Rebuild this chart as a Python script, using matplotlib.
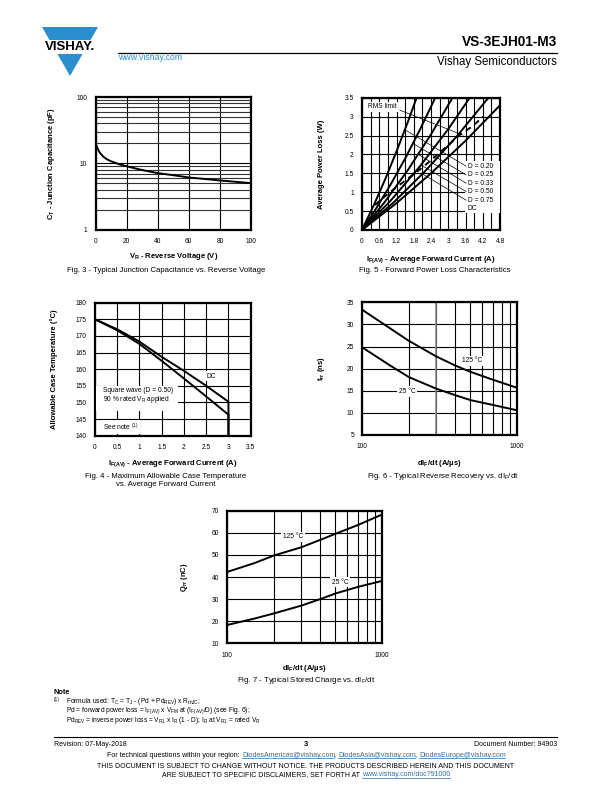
import matplotlib
matplotlib.use("Agg")
import matplotlib.pyplot as plt
import numpy as np
from matplotlib.patches import Polygon, Rectangle
from matplotlib.lines import Line2D
from matplotlib.ticker import LogLocator, NullFormatter, MultipleLocator, FixedLocator

plt.rcParams['font.family'] = ['Liberation Sans', 'DejaVu Sans']
plt.rcParams['mathtext.fontset'] = 'custom'
plt.rcParams['mathtext.rm'] = 'Liberation Sans'
plt.rcParams['mathtext.it'] = 'Liberation Sans:italic'
plt.rcParams['mathtext.bf'] = 'Liberation Sans:bold'

# ---- Fig. 3 : junction capacitance
cap_vr = [0, 1, 2, 3, 5, 7, 10, 15, 20, 30, 40, 50, 60, 70, 80, 90, 100]
cap_pf = [20, 17.5, 15.5, 14.2, 12.6, 11.6, 10.7, 9.7, 9.0, 7.9, 7.1, 6.6, 6.1, 5.8, 5.5, 5.25, 5.0]

# ---- Fig. 5 : forward power loss
duty_labels = ['D = 0.20', 'D = 0.25', 'D = 0.33', 'D = 0.50', 'D = 0.75', 'DC']
loss_i = [
    [0, 0.4, 0.8, 1.2, 1.6, 1.9],
    [0, 0.5, 1.0, 1.5, 2.0, 2.55],
    [0, 0.8, 1.6, 2.4, 3.15],
    [0, 1.0, 2.0, 3.0, 3.75],
    [0, 1.1, 2.2, 3.3, 4.4],
    [0, 1.2, 2.4, 3.6, 4.8],
]
loss_p = [
    [0, 0.64, 1.33, 2.08, 2.87, 3.50],
    [0, 0.58, 1.21, 1.89, 2.63, 3.50],
    [0, 0.75, 1.59, 2.53, 3.50],
    [0, 0.78, 1.67, 2.67, 3.50],
    [0, 0.73, 1.56, 2.48, 3.50],
    [0, 0.71, 1.50, 2.36, 3.30],
]
rms_i = [0.45, 0.92, 2.13, 2.48, 3.47, 3.82, 4.22]
rms_p = [0.66, 0.97, 1.67, 1.90, 2.56, 2.73, 3.00]
leader_i = [1.49, 1.77, 1.95, 2.05, 2.10]

# ---- Fig. 4 : allowable case temperature
tc_i = [0, 0.5, 1.0, 1.5, 2.0, 2.5, 3.0, 3.0]
tc_dc = [175, 172.0, 168.3, 163.7, 159.5, 155.0, 150.2, 140]
tc_sq = [175, 171.7, 167.6, 162.5, 157.2, 151.8, 146.3, 140]

# ---- Fig. 6 / 7 : recovery vs dIF/dt
didt = [100, 150, 200, 300, 400, 500, 700, 1000]
trr_125 = [33.3, 29.2, 26.3, 22.8, 20.7, 19.3, 17.5, 15.7]
trr_25 = [24.8, 20.8, 18.1, 15.5, 14.0, 12.9, 11.8, 10.6]
qrr_125 = [42.3, 46.3, 49.7, 53.4, 56.8, 59.5, 63.5, 68.2]
qrr_25 = [18.3, 21.2, 23.5, 27.0, 30.0, 32.5, 35.5, 38.2]

W, H = 612, 792
fig = plt.figure(figsize=(W / 100, H / 100), dpi=100)

TICK = 4.8
LAB = 5.5
CAP = 5.6
BLUE = '#2b8fce'


def make_ax(x0, y0, x1, y1):
    ax = fig.add_axes([x0 / W, 1 - y1 / H, (x1 - x0) / W, (y1 - y0) / H])
    for sp in ax.spines.values():
        sp.set_linewidth(1.6)
    ax.tick_params(which='both', length=0, labelsize=TICK, pad=6)
    return ax


def ftext(x, y, s, **kw):
    return fig.text(x / W, 1 - y / H, s, **kw)


def box_text(ax, x, y, s, **kw):
    ax.text(x, y, s, fontsize=TICK, zorder=5,
            bbox=dict(facecolor='white', edgecolor='none', pad=1.2), **kw)


# ================= Fig. 3
ax = make_ax(95.5, 97, 251, 229.5)
ax.set_yscale('log')
ax.set_xlim(0, 100)
ax.set_ylim(1, 100)
ax.set_xticks(range(0, 101, 20))
ax.set_yticks([1, 10, 100])
ax.set_yticklabels(['1', '10', '100'])
ax.yaxis.set_minor_locator(LogLocator(subs=range(2, 10)))
ax.yaxis.set_minor_formatter(NullFormatter())
ax.grid(True, which='major', color='black', lw=0.8)
ax.grid(True, which='minor', axis='y', color='#333333', lw=0.8)
ax.plot(cap_vr, cap_pf, color='black', lw=1.4, zorder=3)
ax.set_xlabel(r'$\mathbf{V_R}$ - Reverse Voltage (V)', fontsize=LAB, fontweight='bold')
ax.set_ylabel(r'C$_\mathbf{T}$ - Junction Capacitance (pF)', fontsize=LAB, fontweight='bold')
ax.xaxis.set_label_coords(0.5, -0.165)
ax.yaxis.set_label_coords(-0.245, 0.5)
ftext(166, 271, 'Fig. 3 - Typical Junction Capacitance vs. Reverse Voltage',
      fontsize=CAP, ha='center', va='center')

# ================= Fig. 5
ax = make_ax(362, 97.7, 500, 230)
ax.set_xlim(0, 4.8)
ax.set_ylim(0, 3.5)
xt = np.arange(0, 4.81, 0.6)
ax.set_xticks(xt)
ax.set_xticklabels(['0', '0.6', '1.2', '1.8', '2.4', '3', '3.6', '4.2', '4.8'])
ax.xaxis.set_minor_locator(MultipleLocator(0.3))
yt = np.arange(0, 3.51, 0.5)
ax.set_yticks(yt)
ax.set_yticklabels(['0', '0.5', '1', '1.5', '2', '2.5', '3', '3.5'])
ax.grid(True, which='both', color='black', lw=0.8)
for xs, ys in zip(loss_i, loss_p):
    ax.plot(xs, ys, color='black', lw=1.4, zorder=3)
ax.plot(rms_i, rms_p, color='black', lw=1.4, ls=(0, (3, 2.5)), zorder=3)
ax.add_patch(Rectangle((3.58, 0.45), 1.22, 1.37, facecolor='white', edgecolor='none', zorder=4))
label_y = [1.69, 1.46, 1.24, 1.02, 0.79, 0.56]
for k, (lab, ly) in enumerate(zip(duty_labels, label_y)):
    ax.text(3.68, ly, lab, fontsize=TICK, va='center', zorder=5)
    if k < len(leader_i):
        li = leader_i[k]
        lp = np.interp(li, loss_i[k], loss_p[k])
        ax.plot([li, 3.62], [lp, ly], color='black', lw=0.5, zorder=4)
box_text(ax, 0.22, 3.26, 'RMS limit', va='center')
ax.plot([1.32, 3.51], [3.17, 2.51], color='black', lw=0.5, zorder=4)
ax.set_xlabel(r'I$_\mathbf{F(AV)}$ - Average Forward Current (A)', fontsize=LAB, fontweight='bold')
ax.set_ylabel('Average Power Loss (W)', fontsize=LAB, fontweight='bold')
ax.xaxis.set_label_coords(0.5, -0.182)
ax.yaxis.set_label_coords(-0.268, 0.5)
ftext(435, 271, 'Fig. 5 - Forward Power Loss Characteristics',
      fontsize=CAP, ha='center', va='center')

# ================= Fig. 4
ax = make_ax(95, 302.7, 250.7, 435.7)
ax.set_xlim(0, 3.5)
ax.set_ylim(140, 180)
ax.set_xticks(np.arange(0, 3.51, 0.5))
ax.set_xticklabels(['0', '0.5', '1', '1.5', '2', '2.5', '3', '3.5'])
ax.set_yticks(range(140, 181, 5))
ax.grid(True, color='black', lw=0.8)
ax.plot(tc_i, tc_dc, color='black', lw=1.4, zorder=3)
ax.plot(tc_i, tc_sq, color='black', lw=1.4, zorder=3)
ax.add_patch(Rectangle((0.02, 147.3), 1.85, 7.5, facecolor='white', edgecolor='none', zorder=4))
ax.text(0.17, 153.7, 'Square wave (D = 0.50)', fontsize=TICK, va='center', zorder=5)
ax.text(0.17, 151.0, r'90 % rated V$_\mathrm{R}$ applied', fontsize=TICK, va='center', zorder=5)
box_text(ax, 0.17, 142.6, r'See note $^{(1)}$', va='center')
box_text(ax, 2.5, 157.9, 'DC', va='center')
ax.set_xlabel(r'I$_\mathbf{F(AV)}$ - Average Forward Current (A)', fontsize=LAB, fontweight='bold')
ax.set_ylabel('Allowable Case Temperature (°C)', fontsize=LAB, fontweight='bold')
ax.xaxis.set_label_coords(0.5, -0.168)
ax.yaxis.set_label_coords(-0.24, 0.5)
ftext(166, 476, 'Fig. 4 - Maximum Allowable Case Temperature',
      fontsize=CAP, ha='center', va='center')
ftext(166, 485, 'vs. Average Forward Current',
      fontsize=CAP, ha='center', va='center')


def didt_axes(ax, ymin, ymax):
    ax.set_xscale('log')
    ax.set_xlim(100, 1000)
    ax.set_ylim(ymin, ymax)
    ax.xaxis.set_major_locator(FixedLocator([100, 1000]))
    ax.set_xticklabels(['100', '1000'])
    ax.xaxis.set_minor_locator(LogLocator(subs=range(2, 10)))
    ax.xaxis.set_minor_formatter(NullFormatter())
    ax.set_yticks(range(ymin, ymax + 1, 5 if ymax < 40 else 10))
    ax.grid(True, which='both', color='black', lw=0.8)
    ax.set_xlabel(r'dI$_\mathbf{F}$/dt (A/µs)', fontsize=LAB, fontweight='bold')


# ================= Fig. 6
ax = make_ax(362.3, 302.3, 516.7, 435)
didt_axes(ax, 5, 35)
ax.axvline(300, color='#8a8a8a', lw=1.1, zorder=1.6)
ax.plot(didt, trr_125, color='black', lw=1.4, zorder=3)
ax.plot(didt, trr_25, color='black', lw=1.4, zorder=3)
box_text(ax, 517, 21.8, '125 °C', ha='center', va='center')
box_text(ax, 195, 14.8, '25 °C', ha='center', va='center')
ax.set_ylabel(r't$_\mathbf{rr}$ (ns)', fontsize=LAB, fontweight='bold')
ax.xaxis.set_label_coords(0.5, -0.173)
ax.yaxis.set_label_coords(-0.229, 0.5)
ftext(443, 476, r'Fig. 6 - Typical Reverse Recovery vs. dI$_\mathrm{F}$/dt',
      fontsize=CAP, ha='center', va='center')

# ================= Fig. 7
ax = make_ax(227.3, 510.7, 381.7, 643.3)
didt_axes(ax, 10, 70)
ax.plot(didt, qrr_125, color='black', lw=1.4, zorder=3)
ax.plot(didt, qrr_25, color='black', lw=1.4, zorder=3)
box_text(ax, 266, 58.1, '125 °C', ha='center', va='center')
box_text(ax, 537, 37.6, '25 °C', ha='center', va='center')
ax.set_ylabel(r'Q$_\mathbf{rr}$ (nC)', fontsize=LAB, fontweight='bold')
ax.xaxis.set_label_coords(0.5, -0.15)
ax.yaxis.set_label_coords(-0.242, 0.5)
ftext(306, 681, r'Fig. 7 - Typical Stored Charge vs. dI$_\mathrm{F}$/dt',
      fontsize=CAP, ha='center', va='center')

# ================= page header
tri = Polygon([(42 / W, 1 - 27 / H), (98 / W, 1 - 27 / H), (70 / W, 1 - 76 / H)],
              closed=True, facecolor=BLUE, edgecolor='none', transform=fig.transFigure)
fig.add_artist(tri)
fig.add_artist(Rectangle((36 / W, 1 - 54 / H), 68 / W, 14 / H, facecolor='white',
                         edgecolor='none', transform=fig.transFigure))
ftext(70, 47.5, 'VISHAY.', fontsize=9.5, fontweight='bold', ha='center', va='center')
ftext(118, 58, 'www.vishay.com', fontsize=6.3, color=BLUE, ha='left', va='center')
fig.add_artist(Line2D([118 / W, 557 / W], [1 - 52.5 / H] * 2, color='black', lw=0.9))
ftext(557, 42, 'VS-3EJH01-M3', fontsize=9.8, fontweight='bold', ha='right', va='center')
ftext(557, 62, 'Vishay Semiconductors', fontsize=8.3, ha='right', va='center')

# ================= note and footer
NOTE = 5.0
ftext(54, 693, 'Note', fontsize=5.3, fontweight='bold', va='center')
ftext(54, 700, '(1)', fontsize=3.4, va='center')
ftext(66, 701.5, r'Formula used: T$_\mathrm{C}$ = T$_\mathrm{J}$ - (Pd + Pd$_\mathrm{REV}$) x R$_\mathrm{thJC}$;',
      fontsize=4.8, va='center')
ftext(66, 711, r'Pd = forward power loss = I$_\mathrm{F(AV)}$ x V$_\mathrm{FM}$ at (I$_\mathrm{F(AV)}$/D) (see Fig. 6);',
      fontsize=4.8, va='center')
ftext(66, 720.5, r'Pd$_\mathrm{REV}$ = inverse power loss = V$_\mathrm{R1}$ x I$_\mathrm{R}$ (1 - D); I$_\mathrm{R}$ at V$_\mathrm{R1}$ = rated V$_\mathrm{R}$',
      fontsize=4.8, va='center')
fig.add_artist(Line2D([54 / W, 557 / W], [1 - 737 / H] * 2, color='black', lw=0.8))
ftext(54, 744, 'Revision: 07-May-2018', fontsize=NOTE, va='center')
ftext(306, 744, '3', fontsize=5.4, fontweight='bold', ha='center', va='center')
ftext(557, 744, 'Document Number: 94903', fontsize=NOTE, ha='right', va='center')

renderer = fig.canvas.get_renderer()


def centered_line(y, parts, size):
    placed = []
    total = 0.0
    for s, col, under in parts:
        t = ftext(0, y, s, fontsize=size, color=col, va='baseline')
        w = t.get_window_extent(renderer).width
        if under:
            w -= 1.0
        placed.append((t, w, under))
        total += w
    x = 306 - total / 2
    for t, w, under in placed:
        t.set_x(x / W)
        if under:
            fig.add_artist(Line2D([x / W, (x + w) / W], [1 - (y + 1.3) / H] * 2,
                                  color=t.get_color(), lw=0.5))
        x += w


LINK = '#1f6fb5'
centered_line(757, [('For technical questions within your region: ', 'black', False),
                    ('DiodesAmericas@vishay.com', LINK, True), (', ', 'black', False),
                    ('DiodesAsia@vishay.com', LINK, True), (', ', 'black', False),
                    ('DiodesEurope@vishay.com', LINK, True)], NOTE)
centered_line(768, [('THIS DOCUMENT IS SUBJECT TO CHANGE WITHOUT NOTICE. THE PRODUCTS DESCRIBED HEREIN AND THIS DOCUMENT',
                     'black', False)], NOTE)
centered_line(776.5, [('ARE SUBJECT TO SPECIFIC DISCLAIMERS, SET FORTH AT ', 'black', False),
                      ('www.vishay.com/doc?91000', LINK, True)], NOTE)

fig.savefig('out.png', dpi=100)
